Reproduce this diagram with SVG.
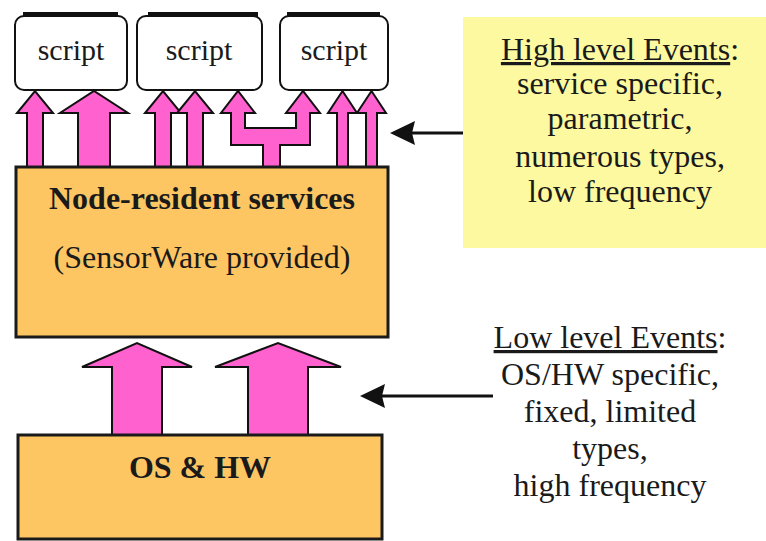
<svg xmlns="http://www.w3.org/2000/svg" width="766" height="541" viewBox="0 0 766 541">
<defs>
<style>
.script{fill:#fff;stroke:#111;stroke-width:2}
.bar{fill:#111}
.svc{fill:#FEC663;stroke:#1a1a1a;stroke-width:3}
.arr{fill:#FF62CE;stroke:#111;stroke-width:2;stroke-linejoin:miter}
.t{font-family:"Liberation Serif","Times New Roman",serif;fill:#1a1a1a;text-anchor:middle}
.b{font-weight:bold}
.ptr{stroke:#111;stroke-width:3;fill:none}
.head{fill:#111}
.note{fill:#FDF9A0}
</style>
</defs>
<rect width="766" height="541" fill="#fff"/>

<g id="script1">
<rect class="bar" x="23" y="12" width="95" height="5"/>
<rect class="script" x="15" y="16" width="112" height="74" rx="9"/>
<text class="t" x="71" y="60" font-size="30">script</text>
</g>
<g id="script2">
<rect class="bar" x="148" y="12" width="110" height="5"/>
<rect class="script" x="137" y="16" width="125" height="74" rx="9"/>
<text class="t" x="199" y="60" font-size="30">script</text>
</g>
<g id="script3">
<rect class="bar" x="287" y="12" width="93" height="5"/>
<rect class="script" x="280" y="16" width="108" height="74" rx="9"/>
<text class="t" x="334" y="60" font-size="30">script</text>
</g>

<g id="connectors">
<polygon class="arr" points="27,167 27,113 17,113 35,91 53,113 43,113 43,167"/>
<polygon class="arr" points="78,167 78,113 60,113 94,91 128,113 110,113 110,167"/>
<polygon class="arr" points="155,167 155,113 145,113 163,91 181,113 171,113 171,167"/>
<polygon class="arr" points="187,167 187,113 177,113 195,91 213,113 203,113 203,167"/>
<polygon class="arr" points="263,167 263,145 231,145 231,113 221,113 238,91 255,113 245,113 245,128 296,128 296,113 286,113 303,91 320,113 310,113 310,145 280,145 280,167"/>
<polygon class="arr" points="337,167 337,113 328,113 342.5,91 357,113 348,113 348,167"/>
<polygon class="arr" points="366,167 366,113 357,113 371.5,91 386,113 377,113 377,167"/>
<polygon class="arr" points="112,435 112,367 82,367 137,343 192,367 162,367 162,435"/>
<polygon class="arr" points="248,435 248,367 215,367 278,343 341,367 308,367 308,435"/>
<line class="ptr" x1="512" y1="133" x2="410" y2="133"/>
<polygon class="head" points="390,133 415,121 412,133 415,145"/>
<line class="ptr" x1="493" y1="396" x2="380" y2="396"/>
<polygon class="head" points="360,396 385,384 382,396 385,408"/>
</g>

<g id="services">
<rect class="svc" x="16" y="167" width="372" height="170"/>
<text class="t b" x="202" y="209" font-size="32">Node-resident services</text>
<text class="t" x="202" y="268" font-size="32">(SensorWare provided)</text>
</g>

<g id="oshw">
<rect class="svc" x="18" y="435" width="364" height="104"/>
<text class="t b" x="200" y="478" font-size="32">OS &amp; HW</text>
</g>

<g id="high-note">
<rect class="note" x="463" y="17" width="303" height="231"/>
<text class="t" x="620" y="60" font-size="32"><tspan text-decoration="underline">High level Events</tspan>:</text>
<text class="t" x="620" y="94" font-size="32">service specific,</text>
<text class="t" x="620" y="129" font-size="32">parametric,</text>
<text class="t" x="620" y="167" font-size="32">numerous types,</text>
<text class="t" x="620" y="202" font-size="32">low frequency</text>
</g>

<g id="low-note">
<text class="t" x="610" y="348" font-size="32"><tspan text-decoration="underline">Low level Events</tspan>:</text>
<text class="t" x="610" y="385" font-size="32">OS/HW specific,</text>
<text class="t" x="610" y="422" font-size="32">fixed, limited</text>
<text class="t" x="610" y="459" font-size="32">types,</text>
<text class="t" x="610" y="496" font-size="32">high frequency</text>
</g>
</svg>
